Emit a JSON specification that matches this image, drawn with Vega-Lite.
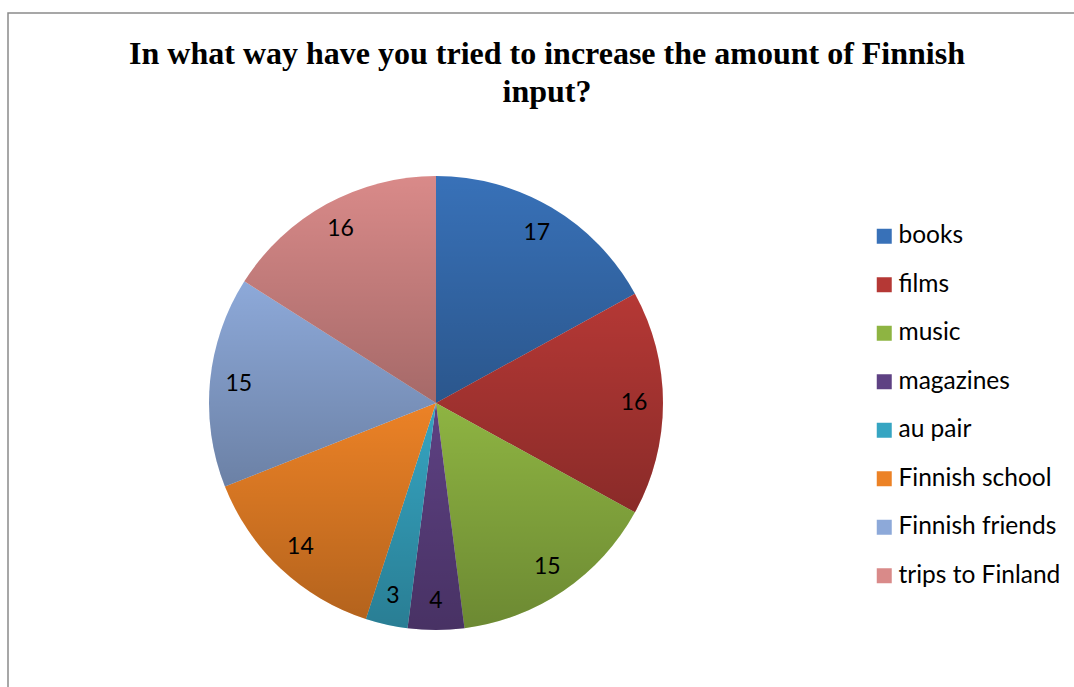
{
  "$schema": "https://vega.github.io/schema/vega-lite/v6.json",
  "width": 1078,
  "height": 704,
  "autosize": {"type": "none"},
  "padding": {"left": 8, "top": 13, "right": -12, "bottom": -30},
  "background": "white",
  "view": {"stroke": "#8a8a8a", "strokeWidth": 1.5, "fill": "white"},
  "title": {
    "text": ["In what way have you tried to increase the amount of Finnish", "input?"],
    "font": "Liberation Serif",
    "fontSize": 32,
    "fontWeight": "bold",
    "color": "black",
    "anchor": "middle",
    "frame": "group",
    "baseline": "alphabetic",
    "offset": -121,
    "lineHeight": 38
  },
  "data": {
    "values": [
      {"category": "books", "value": 17, "order": 1},
      {"category": "films", "value": 16, "order": 2},
      {"category": "music", "value": 15, "order": 3},
      {"category": "magazines", "value": 4, "order": 4},
      {"category": "au pair", "value": 3, "order": 5},
      {"category": "Finnish school", "value": 14, "order": 6},
      {"category": "Finnish friends", "value": 15, "order": 7},
      {"category": "trips to Finland", "value": 16, "order": 8}
    ]
  },
  "encoding": {
    "theta": {"field": "value", "type": "quantitative", "stack": true},
    "order": {"field": "order", "type": "quantitative"}
  },
  "layer": [
    {
      "mark": {"type": "arc", "outerRadius": 227, "x": 428, "y": 390},
      "encoding": {
        "color": {
          "field": "category",
          "type": "nominal",
          "scale": {
            "domain": ["books", "films", "music", "magazines", "au pair", "Finnish school", "Finnish friends", "trips to Finland"],
            "range": ["#3871B8", "#B53835", "#8EB442", "#5E4183", "#36A5C2", "#EC8226", "#8DA9D9", "#D98A89"]
          },
          "legend": {
            "orient": "none",
            "legendX": 864,
            "legendY": 211,
            "title": null,
            "symbolType": "square",
            "symbolSize": 225,
            "symbolStrokeWidth": 0,
            "symbolOpacity": 1,
            "labelFont": "Lato",
            "labelFontSize": 24.5,
            "labelColor": "black",
            "labelOffset": 2,
            "labelLimit": 400,
            "rowPadding": 23.5,
            "padding": 0
          }
        }
      }
    },
    {
      "mark": {
        "type": "arc",
        "outerRadius": 227,
        "x": 428,
        "y": 390,
        "color": {
          "gradient": "linear",
          "x1": 0, "y1": 0, "x2": 0, "y2": 1,
          "stops": [
            {"offset": 0, "color": "rgba(0,0,0,0)"},
            {"offset": 1, "color": "rgba(0,0,0,0.24)"}
          ]
        }
      },
      "encoding": {
        "detail": {"field": "category", "type": "nominal"}
      }
    },
    {
      "mark": {"type": "text", "radius": 198, "x": 428, "y": 390, "font": "Lato", "fontSize": 23, "color": "black"},
      "encoding": {
        "detail": {"field": "category", "type": "nominal"},
        "text": {"field": "value", "type": "quantitative"}
      }
    }
  ],
  "config": {
    "view": {"stroke": "#8a8a8a", "strokeWidth": 1.5}
  }
}
